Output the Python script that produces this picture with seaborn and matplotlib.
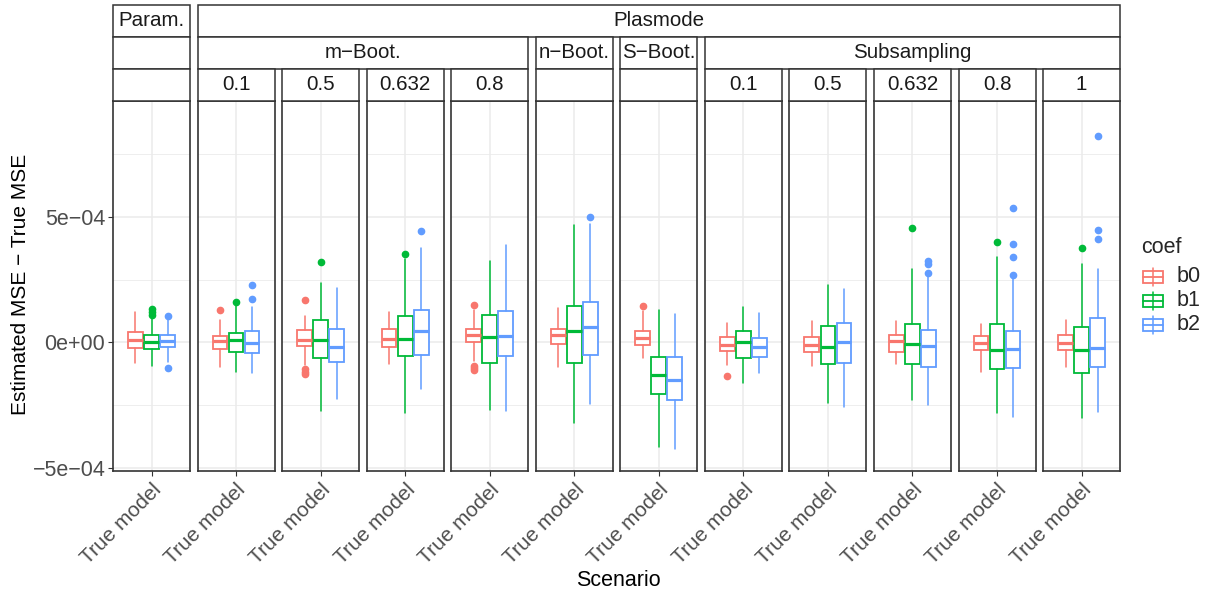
import matplotlib
matplotlib.use("Agg")
import matplotlib.pyplot as plt
import seaborn as sns
from matplotlib.patches import Rectangle
from matplotlib.lines import Line2D

# panel labels (outer strip, middle strip, inner strip)
outer = ["Param.", "Plasmode"]
middle = ["m\u2212Boot.", "n\u2212Boot.", "S\u2212Boot.", "Subsampling"]
middle_span = [(1, 4), (5, 5), (6, 6), (7, 11)]
inner = ["", "0.1", "0.5", "0.632", "0.8", "", "", "0.1", "0.5", "0.632", "0.8", "1"]
coefs = ["b0", "b1", "b2"]
scenario = "True model"

# box stats, units of 1e-4, one row per panel, columns b0, b1, b2
whislo = [[-0.84, -0.94, -0.77], [-0.97, -1.17, -1.21], [-0.91, -2.73, -2.24],
          [-0.87, -2.81, -1.85], [-0.75, -2.71, -2.74], [-0.98, -3.21, -2.47],
          [-0.61, -4.18, -4.25], [-0.91, -1.62, -1.22], [-0.95, -2.42, -2.58],
          [-0.88, -2.29, -2.49], [-1.19, -2.82, -2.98], [-1.00, -3.01, -2.78]]
q1 = [[-0.23, -0.25, -0.20], [-0.28, -0.39, -0.44], [-0.15, -0.63, -0.80],
      [-0.20, -0.55, -0.52], [0.00, -0.82, -0.55], [-0.07, -0.83, -0.52],
      [-0.12, -2.05, -2.30], [-0.36, -0.61, -0.57], [-0.40, -0.87, -0.82],
      [-0.39, -0.87, -0.98], [-0.32, -1.08, -1.04], [-0.29, -1.24, -0.98]]
med = [[0.11, 0.03, 0.04], [0.05, 0.09, -0.01], [0.11, 0.11, -0.19],
       [0.15, 0.12, 0.44], [0.28, 0.20, 0.24], [0.28, 0.47, 0.60],
       [0.17, -1.31, -1.51], [-0.09, 0.01, -0.17], [-0.11, -0.17, 0.00],
       [0.05, -0.05, -0.16], [-0.03, -0.31, -0.25], [-0.03, -0.31, -0.24]]
q3 = [[0.43, 0.28, 0.31], [0.27, 0.36, 0.44], [0.49, 0.87, 0.55],
      [0.52, 1.03, 1.29], [0.55, 1.08, 1.26], [0.55, 1.46, 1.60],
      [0.45, -0.57, -0.60], [0.23, 0.47, 0.19], [0.23, 0.67, 0.78],
      [0.31, 0.75, 0.51], [0.27, 0.75, 0.44], [0.31, 0.63, 0.95]]
whishi = [[1.19, 1.03, 0.88], [0.87, 1.43, 1.39], [1.05, 2.38, 2.18],
          [1.19, 3.31, 3.74], [1.27, 3.24, 3.88], [1.36, 4.69, 4.73],
          [1.23, 1.27, 1.14], [0.78, 1.39, 1.15], [0.84, 2.29, 2.14],
          [0.84, 2.93, 2.70], [0.74, 3.40, 2.57], [0.88, 3.14, 2.91]]
fliers = [[[], [1.32, 1.22, 1.10], [1.06, -1.03]],
          [[1.29], [1.61], [2.28, 1.72]],
          [[1.69, -1.05, -1.17, -1.27], [3.22], []],
          [[], [3.54], [4.44]],
          [[1.50, -0.95, -1.02, -1.10], [], []],
          [[], [], [5.01]],
          [[1.44], [], []],
          [[-1.34], [], []],
          [[], [], []],
          [[], [4.56], [3.24, 3.14, 2.78]],
          [[], [4.00], [5.35, 3.93, 3.40, 2.70]],
          [[], [3.74], [8.22, 4.49, 4.13]]]

sns.set_theme(style="white")
plt.rcParams["font.family"] = ["Liberation Sans", "DejaVu Sans"]
colors = sns.color_palette(["#F8766D", "#00BA38", "#619CFF"])

W, H = 1207, 598
fig = plt.figure(figsize=(W / 100, H / 100), dpi=100)


def fx(px):
    return px / W


def fy(py):
    return 1 - py / H


panel_top, panel_bot = 101, 471
pitch, pw = 84.55, 77
lefts = [113 + i * pitch for i in range(12)]
border = "#333333"

axes = []
for i in range(12):
    ax = fig.add_axes([fx(lefts[i]), fy(panel_bot), fx(pw), (panel_bot - panel_top) / H])
    for j in range(3):
        st = dict(whislo=whislo[i][j], q1=q1[i][j], med=med[i][j], q3=q3[i][j],
                  whishi=whishi[i][j], fliers=fliers[i][j])
        c = colors[j]
        ax.bxp([st], positions=[0.75 + 0.25 * j], widths=0.23, patch_artist=True,
               showcaps=False, zorder=3,
               boxprops=dict(facecolor="white", edgecolor=c, linewidth=1.3),
               whiskerprops=dict(color=c, linewidth=1.1),
               medianprops=dict(color=c, linewidth=2.3),
               flierprops=dict(marker="o", markerfacecolor=c, markeredgecolor=c,
                               markersize=4.5, linestyle="none"))
    ax.set_xlim(0.4, 1.6)
    ax.set_ylim(-5.13, 9.62)
    ax.set_yticks([-5, 0, 5])
    ax.set_yticks([-2.5, 2.5, 7.5], minor=True)
    ax.set_xticks([1])
    ax.set_xticklabels([scenario], rotation=45, ha="right", rotation_mode="anchor",
                       fontsize=15, color="#4D4D4D")
    ax.grid(which="major", color="#EBEBEB", linewidth=1.1, zorder=0)
    ax.grid(which="minor", axis="y", color="#EBEBEB", linewidth=0.6, zorder=0)
    ax.set_axisbelow(True)
    ax.tick_params(axis="x", length=3.5, width=0.8, color=border, pad=3, bottom=True)
    for s in ax.spines.values():
        s.set_color(border)
        s.set_linewidth(1.2)
    if i == 0:
        ax.set_yticklabels(["\u22125e\u221204", "0e+00", "5e\u221204"], fontsize=15.5,
                           color="#4D4D4D")
        ax.tick_params(axis="y", length=3.5, width=0.8, color=border, pad=2, left=True)
    else:
        ax.set_yticklabels([])
        ax.tick_params(axis="y", left=False)
    axes.append(ax)

# facet strips
rows = [(5, 37), (37, 69), (69, 101)]


def strip(x0, x1, row, label):
    y0, y1 = rows[row]
    fig.add_artist(Rectangle((fx(x0), fy(y1)), fx(x1 - x0), (y1 - y0) / H,
                             facecolor="white", edgecolor=border, linewidth=1.1,
                             transform=fig.transFigure))
    if label:
        fig.text(fx((x0 + x1) / 2), fy((y0 + y1) / 2), label, ha="center",
                 va="center", fontsize=14.8, color="#1A1A1A")


strip(lefts[0], lefts[0] + pw, 0, outer[0])
strip(lefts[1], lefts[11] + pw, 0, outer[1])
strip(lefts[0], lefts[0] + pw, 1, "")
for lab, (a, b) in zip(middle, middle_span):
    strip(lefts[a], lefts[b] + pw, 1, lab)
for i in range(12):
    strip(lefts[i], lefts[i] + pw, 2, inner[i])

# axis titles
fig.text(fx(21), fy(284), "Estimated MSE \u2212 True MSE", rotation=90, ha="center",
         va="center", fontsize=15, color="black")
fig.text(fx(618), fy(581), "Scenario", ha="center", va="center", fontsize=15.5,
         color="black")

# legend
fig.text(fx(1141), fy(247), "coef", ha="left", va="center", fontsize=15.5)
for j, lab in enumerate(coefs):
    yc = 277 + 24 * j
    c = colors[j]
    fig.add_artist(Line2D([fx(1153), fx(1153)], [fy(yc + 9), fy(yc - 9)], color=c,
                          linewidth=1.1, transform=fig.transFigure))
    fig.add_artist(Rectangle((fx(1143), fy(yc + 6)), fx(20), 12 / H, facecolor="white",
                             edgecolor=c, linewidth=1.3, transform=fig.transFigure))
    fig.add_artist(Line2D([fx(1143), fx(1163)], [fy(yc), fy(yc)], color=c,
                          linewidth=1.3, transform=fig.transFigure))
    fig.text(fx(1177), fy(yc), lab, ha="left", va="center", fontsize=15.5)

fig.savefig("out.png", dpi=100)
